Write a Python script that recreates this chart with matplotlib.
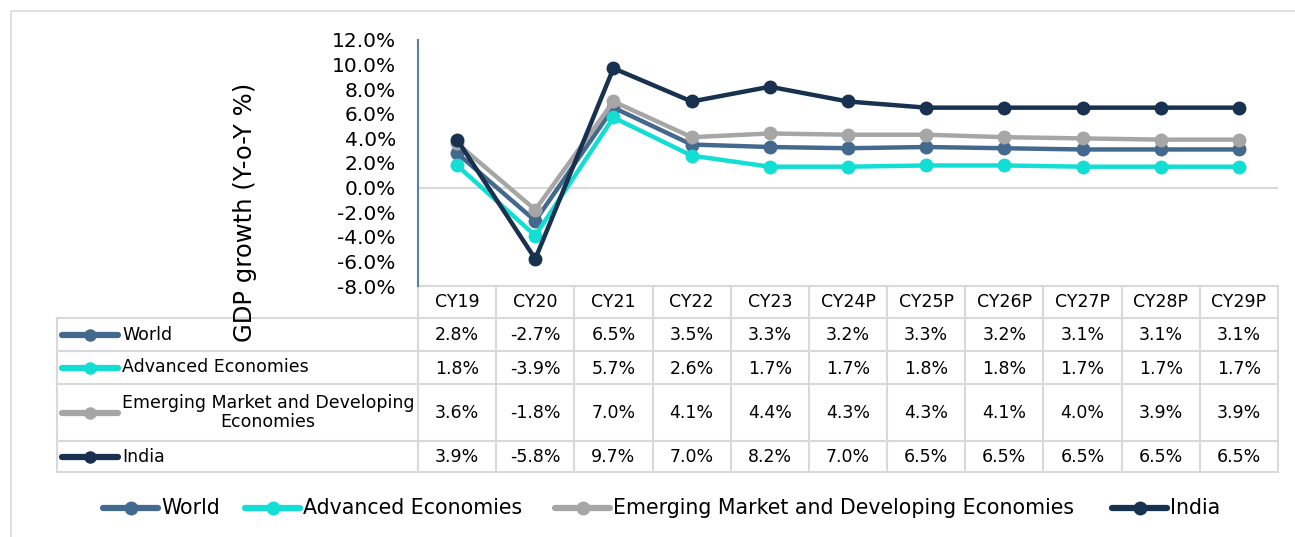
import matplotlib.pyplot as plt
from matplotlib.patches import Rectangle

years = ["CY19", "CY20", "CY21", "CY22", "CY23", "CY24P", "CY25P",
         "CY26P", "CY27P", "CY28P", "CY29P"]
world = [2.8, -2.7, 6.5, 3.5, 3.3, 3.2, 3.3, 3.2, 3.1, 3.1, 3.1]
advanced = [1.8, -3.9, 5.7, 2.6, 1.7, 1.7, 1.8, 1.8, 1.7, 1.7, 1.7]
emerging = [3.6, -1.8, 7.0, 4.1, 4.4, 4.3, 4.3, 4.1, 4.0, 3.9, 3.9]
india = [3.9, -5.8, 9.7, 7.0, 8.2, 7.0, 6.5, 6.5, 6.5, 6.5, 6.5]

names = ["World", "Advanced Economies",
         "Emerging Market and Developing\nEconomies", "India"]
legend_names = ["World", "Advanced Economies",
                "Emerging Market and Developing Economies", "India"]
series = [world, advanced, emerging, india]
colors = ["#44698E", "#12DED3", "#A6A6A6", "#17314F"]

W, H = 1295, 537
FONT = "DejaVu Sans"
GRID = "#D9D9D9"

fig = plt.figure(figsize=(W / 100, H / 100), dpi=100)
fig.patch.set_facecolor("white")

# overlay in pixel coords for border, table and legend
ov = fig.add_axes([0, 0, 1, 1])
ov.set_xlim(0, W)
ov.set_ylim(H, 0)
ov.axis("off")
ov.add_patch(Rectangle((11, 11), W + 20, H + 20, fill=False,
                       edgecolor="#D9D9D9", linewidth=1.2))

# main chart
x0, x1, y0, y1 = 418, 1278, 40, 286
ax = fig.add_axes([x0 / W, 1 - y1 / H, (x1 - x0) / W, (y1 - y0) / H])
ax.set_facecolor("none")
n = len(years)
xs = list(range(n))
for vals, c in zip(series, colors):
    ax.plot(xs, vals, color=c, linewidth=3.2, marker="o", markersize=9,
            solid_joinstyle="round", zorder=3)
ax.axhline(0, color=GRID, linewidth=1.5, zorder=1)
ax.set_xlim(-0.5, n - 0.5)
ax.set_ylim(-8, 12)
ax.set_yticks(range(-8, 13, 2))
ax.set_yticklabels([f"{v:.1f}%" for v in range(-8, 13, 2)],
                   fontsize=14.5, family=FONT)
ax.tick_params(axis="y", length=0, pad=16)
ax.set_xticks([])
for s in ["top", "right", "bottom"]:
    ax.spines[s].set_visible(False)
ax.spines["left"].set_color("#5B80A6")
ax.spines["left"].set_linewidth(1.5)

# y label (overlaps table like the original)
ov.text(245, 212, "GDP growth (Y-o-Y %)", rotation=90, ha="center",
        va="center", fontsize=17.5, family=FONT, color="black")

# data table
col_w = (x1 - x0) / n
rows = [318, 351, 384, 441, 472]
tbl_left = 57
lw = 1.5
ov.plot([x0, x1], [286, 286], color=GRID, lw=lw)
for i in range(n + 1):
    xv = x0 + i * col_w
    ov.plot([xv, xv], [286, rows[-1]], color=GRID, lw=lw)
for yv in rows:
    ov.plot([tbl_left, x1], [yv, yv], color=GRID, lw=lw)
ov.plot([tbl_left, tbl_left], [rows[0], rows[-1]], color=GRID, lw=lw)

for i, yr in enumerate(years):
    ov.text(x0 + (i + 0.5) * col_w, 302, yr, ha="center", va="center",
            fontsize=12.5, family=FONT)

for r, (nm, vals, c) in enumerate(zip(names, series, colors)):
    yc = (rows[r] + rows[r + 1]) / 2
    ov.plot([62, 118], [yc, yc], color=c, lw=4.5, solid_capstyle="round")
    ov.plot([90], [yc], marker="o", color=c, markersize=8)
    ov.text(122, yc, nm, ha="left", va="center", multialignment="center",
            fontsize=12.5, family=FONT, linespacing=1.1)
    for i, v in enumerate(vals):
        ov.text(x0 + (i + 0.5) * col_w, yc + 1, f"{v:.1f}%", ha="center",
                va="center", fontsize=12.5, family=FONT)

# legend
leg_x = [103, 245, 555, 1112]
for lx, nm, c in zip(leg_x, legend_names, colors):
    ov.plot([lx, lx + 55], [508, 508], color=c, lw=4.5,
            solid_capstyle="round")
    ov.plot([lx + 27.5], [508], marker="o", color=c, markersize=9)
    ov.text(lx + 58, 508, nm, ha="left", va="center", fontsize=14.8,
            family=FONT)

fig.savefig("out.png", dpi=100, facecolor="white")
